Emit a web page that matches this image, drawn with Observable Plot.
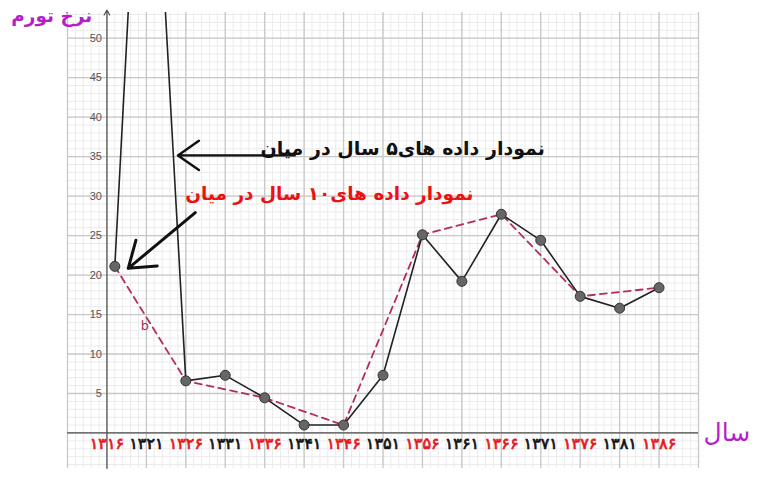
<!DOCTYPE html>
<html>
<head>
<meta charset="utf-8">
<script src="https://cdn.jsdelivr.net/npm/d3@7"></script>
<script src="https://cdn.jsdelivr.net/npm/@observablehq/plot@0.6"></script>
<style>
  html, body { margin: 0; padding: 0; background: #fff; }
  #chart svg { display: block; overflow: visible; }
</style>
</head>
<body>
<div id="chart"></div>
<script>
// ---- data ----
const years5 = [1317, 1321, 1326, 1331, 1336, 1341, 1346, 1351, 1356, 1361, 1366, 1371, 1376, 1381, 1386];
const rate5  = [21.1, 97, 6.6, 7.3, 4.45, 1.0, 1.0, 7.3, 25.1, 19.2, 27.7, 24.4, 17.3, 15.8, 18.4];
const years10 = [1317, 1326, 1336, 1346, 1356, 1366, 1376, 1386];
const rate10  = [21.1, 6.6, 4.45, 1.0, 25.1, 27.7, 17.3, 18.4];
const tickYears  = [1316, 1321, 1326, 1331, 1336, 1341, 1346, 1351, 1356, 1361, 1366, 1371, 1376, 1381, 1386];
const tickLabels = ["۱۳۱۶", "۱۳۲۱", "۱۳۲۶", "۱۳۳۱", "۱۳۳۶", "۱۳۴۱", "۱۳۴۶", "۱۳۵۱", "۱۳۵۶", "۱۳۶۱", "۱۳۶۶", "۱۳۷۱", "۱۳۷۶", "۱۳۸۱", "۱۳۸۶"];
const tickRed    = [true, false, true, false, true, false, true, false, true, false, true, false, true, false, true];
const yTicks = [5, 10, 15, 20, 25, 30, 35, 40, 45, 50];
const yTitle = "نرخ تورم";
const xTitle = "سال";
const note5  = "نمودار داده های۵ سال در میان";
const note10 = "نمودار داده های۱۰ سال در میان";
const segLabel = "b";

// ---- build ----
const s5 = years5.map((y, i) => ({year: y, rate: rate5[i]}));
const s10 = years10.map((y, i) => ({year: y, rate: rate10[i]}));
const ticks = tickYears.map((y, i) => ({year: y, label: tickLabels[i], red: tickRed[i]}));

const xDom = [1311, 1391], yDom = [-4.5, 53.25];
const minorX = d3.range(1311, 1392, 1);
const majorX = d3.range(1311, 1392, 5);
const minorY = d3.range(-4, 54, 1);
const majorY = d3.range(0, 54, 5);
const FONT = "DejaVu Sans, sans-serif";
const tickColor = d => d.red ? "#e8161c" : "#111";

const chart = Plot.plot({
  width: 764,
  height: 480,
  marginLeft: 67,
  marginRight: 66,
  marginTop: 12,
  marginBottom: 12,
  x: {domain: xDom, axis: null},
  y: {domain: yDom, axis: null},
  marks: [
    // grid
    Plot.ruleX(minorX, {x: d => d, y1: yDom[0], y2: yDom[1], stroke: "#ebebeb", strokeWidth: 1}),
    Plot.ruleY(minorY, {y: d => d, x1: xDom[0], x2: xDom[1], stroke: "#ebebeb", strokeWidth: 1}),
    Plot.ruleX(majorX, {x: d => d, y1: yDom[0], y2: yDom[1], stroke: "#c8c8c8", strokeWidth: 1.3}),
    Plot.ruleY(majorY, {y: d => d, x1: xDom[0], x2: xDom[1], stroke: "#c8c8c8", strokeWidth: 1.3}),
    // axes
    Plot.ruleY([0], {x1: xDom[0], x2: xDom[1], stroke: "#555", strokeWidth: 1.2}),
    Plot.arrow([0], {x1: 1316, x2: 1316, y1: yDom[0], y2: yDom[1] + 0.3, stroke: "#555", strokeWidth: 1.2, headLength: 7}),
    // y tick labels
    Plot.text(yTicks, {x: 1316, y: d => d, text: d => String(d), dx: -5, textAnchor: "end", fill: "#555", fontSize: 11, fontFamily: "Liberation Sans, Arial, sans-serif"}),
    // x tick labels
    Plot.text(ticks, {x: "year", y: 0, text: "label", dy: 11, fill: tickColor, stroke: tickColor, strokeWidth: 0.7, fontSize: 16, fontFamily: FONT}),
    // dashed 10-year series
    Plot.line(s10, {x: "year", y: "rate", stroke: "#b32e5c", strokeWidth: 1.8, strokeDasharray: "7,5", clip: true}),
    Plot.text([segLabel], {x: 1320.8, y: 13.6, text: d => d, fill: "#b32e5c", fontSize: 13, fontFamily: FONT}),
    // solid 5-year series
    Plot.line(s5, {x: "year", y: "rate", stroke: "#222", strokeWidth: 1.6, clip: true}),
    Plot.dot(s5, {x: "year", y: "rate", r: 5, fill: "#666", stroke: "#333", strokeWidth: 1, clip: true}),
    // annotations
    Plot.arrow([0], {x1: 1339.8, y1: 35.15, x2: 1325.0, y2: 35.15, stroke: "#111", strokeWidth: 2.4, headLength: 16, headAngle: 70}),
    Plot.text([note5], {x: 1353.5, y: 36, text: d => d, fill: "#111", fontSize: 19, fontWeight: "bold", fontFamily: FONT}),
    Plot.text([note10], {x: 1344.2, y: 30.3, text: d => d, fill: "#ee1111", fontSize: 18.5, fontWeight: "bold", fontFamily: FONT}),
    Plot.arrow([0], {x1: 1327.2, y1: 27.9, x2: 1318.7, y2: 20.85, stroke: "#111", strokeWidth: 3, headLength: 17, headAngle: 70}),
    // titles
    Plot.text([yTitle], {x: 1309.0, y: 52.8, text: d => d, fill: "#b41fc8", fontSize: 18.5, fontWeight: "bold", fontFamily: FONT}),
    Plot.text([xTitle], {x: 1394.6, y: 0, text: d => d, fill: "#b41fc8", fontSize: 25, fontFamily: FONT})
  ]
});
document.getElementById("chart").appendChild(chart);
</script>
</body>
</html>
